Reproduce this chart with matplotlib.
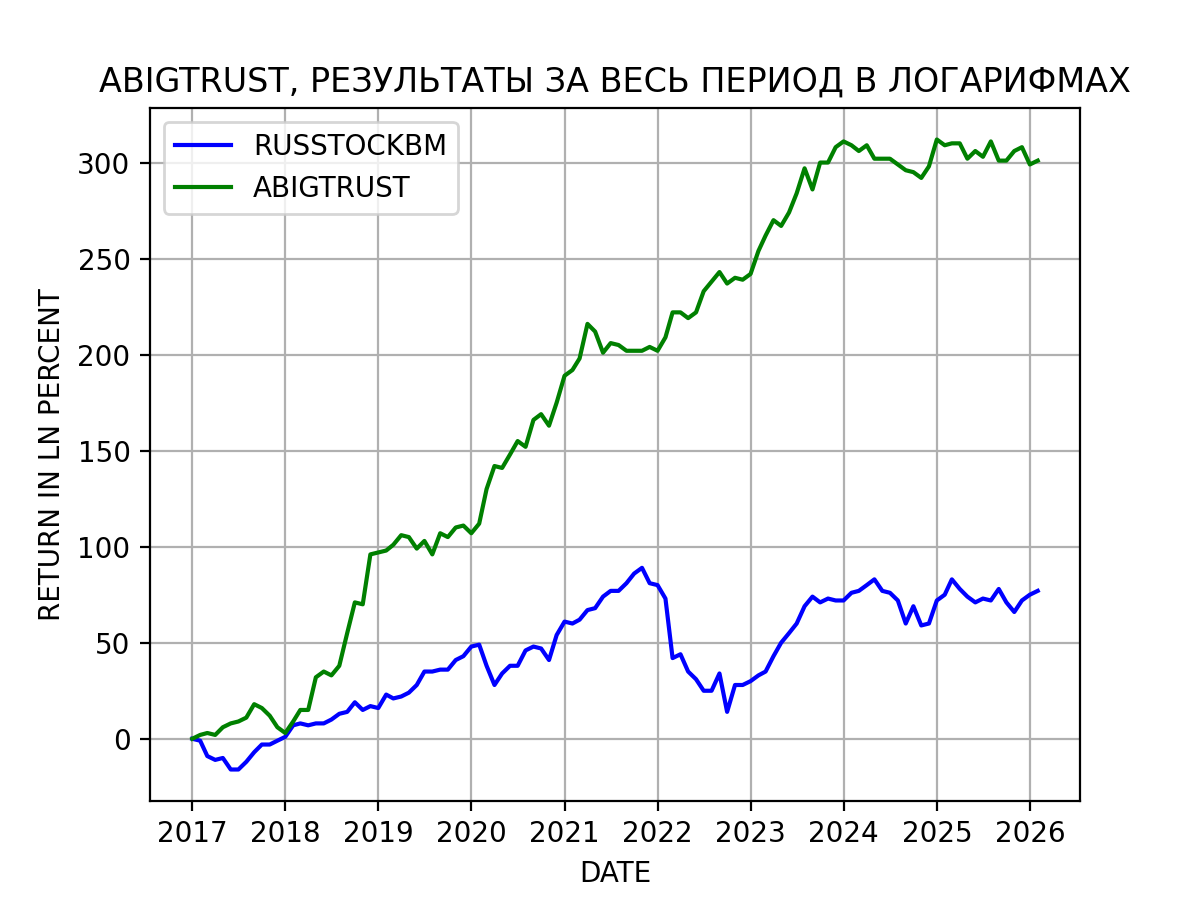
import numpy as np
import pandas as pd
import matplotlib
matplotlib.use("Agg")
import matplotlib.pyplot as plt

dates = pd.date_range("2017-01-01", periods=110, freq="MS")

abigtrust = [
    0, 2, 3, 2, 6, 8, 9, 11, 18, 16, 12, 6,
    3, 9, 15, 15, 32, 35, 33, 38, 55, 71, 70, 96,
    97, 98, 101, 106, 105, 99, 103, 96, 107, 105, 110, 111,
    107, 112, 130, 142, 141, 148, 155, 152, 166, 169, 163, 175,
    189, 192, 198, 216, 212, 201, 206, 205, 202, 202, 202, 204,
    202, 209, 222, 222, 219, 222, 233, 238, 243, 237, 240, 239,
    242, 254, 262, 270, 267, 274, 284, 297, 286, 300, 300, 308,
    311, 309, 306, 309, 302, 302, 302, 299, 296, 295, 292, 298,
    312, 309, 310, 310, 302, 306, 303, 311, 301, 301, 306, 308,
    299, 301,
]

russtockbm = [
    0, -1, -9, -11, -10, -16, -16, -12, -7, -3, -3, -1,
    1, 7, 8, 7, 8, 8, 10, 13, 14, 19, 15, 17,
    16, 23, 21, 22, 24, 28, 35, 35, 36, 36, 41, 43,
    48, 49, 38, 28, 34, 38, 38, 46, 48, 47, 41, 54,
    61, 60, 62, 67, 68, 74, 77, 77, 81, 86, 89, 81,
    80, 73, 42, 44, 35, 31, 25, 25, 34, 14, 28, 28,
    30, 33, 35, 43, 50, 55, 60, 69, 74, 71, 73, 72,
    72, 76, 77, 80, 83, 77, 76, 72, 60, 69, 59, 60,
    72, 75, 83, 78, 74, 71, 73, 72, 78, 71, 66, 72,
    75, 77,
]

fig, ax = plt.subplots(figsize=(6, 4.5), dpi=200)
ax.plot(dates, russtockbm, color="blue", label="RUSSTOCKBM")
ax.plot(dates, abigtrust, color="green", label="ABIGTRUST")
ax.set_title("ABIGTRUST, РЕЗУЛЬТАТЫ ЗА ВЕСЬ ПЕРИОД В ЛОГАРИФМАХ")
ax.set_xlabel("DATE")
ax.set_ylabel("RETURN IN LN PERCENT")
ax.grid(True)
ax.legend(loc="upper left")
fig.savefig("out.png")
